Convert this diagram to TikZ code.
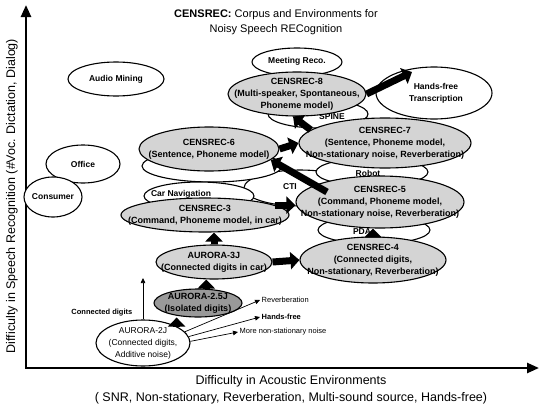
\documentclass[tikz,border=0pt]{standalone}
\usepackage{fontspec}
\setmainfont{Liberation Sans}
\usetikzlibrary{arrows.meta,shapes.geometric}

\tikzset{
  oval/.style={ellipse,draw=black,line width=1.1pt,fill=white,inner sep=0pt},
  corpus/.style={oval,fill=black!17},
  tag/.style={font=\bfseries\fontsize{9}{12}\selectfont,align=center,inner sep=0pt},
  place/.style={font=\bfseries\fontsize{8.5}{12}\selectfont,align=center,inner sep=0pt},
  bigarrow/.style={line width=7pt,-{Triangle[length=9pt,width=17pt]}},
  smallarrow/.style={line width=0.7pt,-{Triangle[length=5pt,width=4.5pt]}},
  note/.style={font=\fontsize{7.5}{9}\selectfont,inner sep=1.5pt,anchor=west},
  axis/.style={line width=2.5pt,{Triangle[length=12pt,width=10pt]}-{Triangle[length=12pt,width=10pt]}}
}

\begin{document}
\begin{tikzpicture}[x=1pt,y=-1pt]
\useasboundingbox (0,0) rectangle (539,407);

\coordinate (ytop) at (26,5);
\coordinate (orig) at (26,368);
\coordinate (xend) at (539,368);
\draw[axis] (ytop) -- (orig) -- (xend);
\node[rotate=90,font=\fontsize{12.5}{15}\selectfont] (ylab) at (12,196) {Difficulty in Speech Recognition (\#Voc. Dictation, Dialog)};
\node[align=center,font=\fontsize{12.5}{17}\selectfont] (xlab) at (291,390) {Difficulty in Acoustic Environments\\( SNR, Non-stationary, Reverberation, Multi-sound source, Hands-free)};
\node[align=center,font=\fontsize{11}{15}\selectfont] (title) at (276,22) {\textbf{CENSREC:} Corpus and Environments for\\Noisy Speech RECognition};

\node[oval,minimum width=96,minimum height=34] (audio) at (116,79) {};
\node[place] (audiot) at (audio) {Audio Mining};
\node[oval,minimum width=74,minimum height=38] (office) at (83,164) {};
\node[place] (officet) at (office) {Office};
\node[oval,minimum width=58,minimum height=40] (consumer) at (53,197) {};
\node[place] (consumert) at (consumer) {Consumer};
\node[oval,minimum width=116,minimum height=52] (hands) at (434,93) {};
\node[place] (handst) at (436,93) {Hands-free\\Transcription};
\node[oval,minimum width=90,minimum height=28] (meeting) at (297,62) {};
\node[place] (meetingt) at (297,61) {Meeting Reco.};
\node[oval,minimum width=100,minimum height=28] (spine) at (318,114) {};
\node[place] (spinet) at (332,117) {SPINE};
\node[oval,minimum width=112,minimum height=36] (cti) at (300,188) {};
\node[place] (ctit) at (290,187) {CTI};
\node[oval,minimum width=140,minimum height=32] (tele) at (212,166) {};
\node[place] (telet) at (203,166) {Tele-Marketing};
\node[oval,minimum width=110,minimum height=28] (carnav) at (199,196) {};
\node[place] (carnavt) at (181,194) {Car Navigation};
\node[oval,minimum width=112,minimum height=28] (robot) at (372,172) {};
\node[place] (robott) at (368,173) {Robot};
\node[oval,minimum width=112,minimum height=28] (pda) at (374,230) {};
\node[place] (pdat) at (362,232) {PDA};

\node[corpus,minimum width=138,minimum height=44] (c8) at (297,94) {};
\node[tag] (c8t) at (c8) {CENSREC-8\\(Multi-speaker, Spontaneous,\\Phoneme model)};
\node[corpus,minimum width=140,minimum height=44] (c6) at (209,149) {};
\node[tag] (c6t) at (c6) {CENSREC-6\\(Sentence, Phoneme model)};
\node[corpus,minimum width=172,minimum height=50] (c7) at (385,143) {};
\node[tag] (c7t) at (c7) {CENSREC-7\\(Sentence, Phoneme model,\\Non-stationary noise, Reverberation)};
\node[corpus,minimum width=168,minimum height=52] (c5) at (380,202) {};
\node[tag] (c5t) at (c5) {CENSREC-5\\(Command, Phoneme model,\\Non-stationary noise, Reverberation)};
\node[corpus,minimum width=168,minimum height=34] (c3) at (205,215) {};
\node[tag] (c3t) at (c3) {CENSREC-3\\(Command, Phoneme model, in car)};
\node[corpus,minimum width=146,minimum height=46] (c4) at (373,260) {};
\node[tag] (c4t) at (c4) {CENSREC-4\\(Connected digits,\\Non-stationary, Reverberation)};
\node[corpus,minimum width=116,minimum height=34] (a3) at (214,262) {};
\node[tag] (a3t) at (a3) {AURORA-3J\\(Connected digits in car)};
\node[corpus,fill=black!40,minimum width=88,minimum height=28] (a25) at (198,303) {};
\node[tag] (a25t) at (a25) {AURORA-2.5J\\(Isolated digits)};
\node[oval,minimum width=94,minimum height=46] (a2) at (143,343) {};
\node[tag,font=\fontsize{8.5}{12}\selectfont] (a2t) at (a2) {AURORA-2J\\(Connected digits,\\Additive noise)};

\coordinate (c5tail) at (327,192);
\coordinate (handtip) at (412,72);
\draw[bigarrow] (a2.north east) -- (a2.north east |- a25.south);
\draw[bigarrow] (a25.60) -- (a25.60 |- a3.south);
\draw[bigarrow] (a3.north) -- (a3.north |- c3.south);
\draw[bigarrow] (a3.east) -- (c4.west);
\draw[bigarrow] (c3.8) -- (c3.8 -| c5.west);
\draw[bigarrow] (c4.north) -- (c4.north |- c5.south);
\draw[bigarrow] (c5tail) -- (c6.-10);
\draw[bigarrow] (c6.east) -- (c7.west);
\draw[bigarrow] (c7.170) -- (c8.-100);
\draw[bigarrow] (c8.east) -- (handtip);

\coordinate (cdtip) at (143,278);
\node[note,anchor=east,font=\bfseries\fontsize{7.5}{9}\selectfont] (cd) at (134,313) {Connected digits};
\node[note] (rev) at (260,300) {Reverberation};
\node[note,font=\bfseries\fontsize{7.5}{9}\selectfont] (hf) at (260,317) {Hands-free};
\node[note] (mns) at (238,332) {More non-stationary noise};
\draw[smallarrow] (a2.north) -- (cdtip);
\draw[smallarrow] (a2.15) -- (rev.west);
\draw[smallarrow] (a2.8) -- (hf.west);
\draw[smallarrow] (a2.2) -- (mns.west);
\end{tikzpicture}
\end{document}
